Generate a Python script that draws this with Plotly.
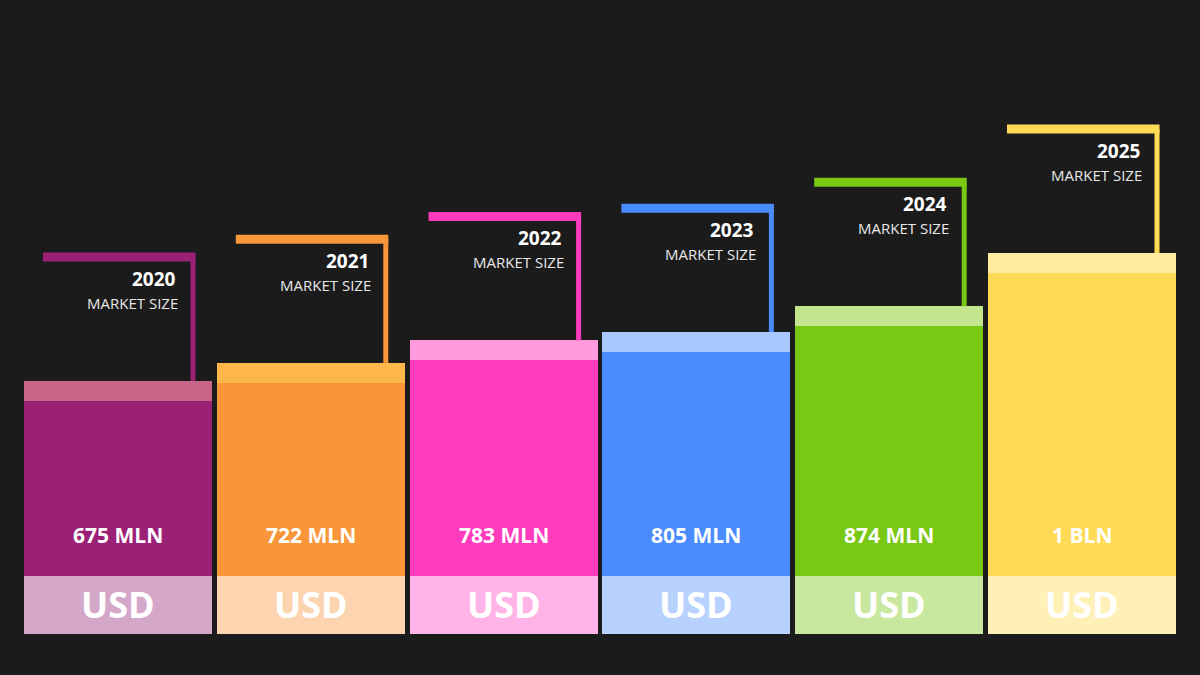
import plotly.graph_objects as go

years = ["2020", "2021", "2022", "2023", "2024", "2025"]
market_size = [675, 722, 783, 805, 874, 1016]  # mln USD
value_labels = ["675 MLN", "722 MLN", "783 MLN", "805 MLN", "874 MLN", "1 BLN"]
main_colors = ["#9B2177", "#F9963A", "#FF3BBD", "#4A8BFF", "#78C814", "#FFDA55"]
top_colors = ["#C9678A", "#FDB64A", "#FF9BDD", "#A9C8FF", "#C3E58E", "#FFEBA0"]
usd_colors = ["#D4A7C9", "#FCD4B0", "#FFB3E6", "#B8D2FF", "#C8E8A0", "#FFF0B8"]

BG = "#1b1b1b"
FONT = "Open Sans"
W, H = 1200, 675
PX_PER_UNIT = 0.375      # vertical pixels per mln
PITCH = 192.8            # horizontal pixels per bar slot
X0 = 118                 # pixel centre of first bar
BAR_W = 188 / PITCH
USD_H = 58 / PX_PER_UNIT
TOP_H = 20 / PX_PER_UNIT
LINE_UP = 124 / PX_PER_UNIT
INSET = 19 / PITCH

x = list(range(len(years)))
y_min = -(H - 634) / PX_PER_UNIT
y_max = 634 / PX_PER_UNIT
x_min = -X0 / PITCH
x_max = (W - X0) / PITCH

fig = go.Figure()

# stacked pieces of each bar: USD band, main body, light top
fig.add_trace(go.Bar(x=x, y=[USD_H] * len(x), base=0, width=BAR_W,
                     marker=dict(color=usd_colors, line_width=0), hoverinfo="skip"))
fig.add_trace(go.Bar(x=x, y=[v - USD_H - TOP_H for v in market_size], base=USD_H, width=BAR_W,
                     marker=dict(color=main_colors, line_width=0), hoverinfo="skip"))
fig.add_trace(go.Bar(x=x, y=[TOP_H] * len(x), base=[v - TOP_H for v in market_size], width=BAR_W,
                     marker=dict(color=top_colors, line_width=0), hoverinfo="skip"))

# connector lines
for i, v in enumerate(market_size):
    xl = i - BAR_W / 2 + INSET
    xr = i + BAR_W / 2 - INSET
    yh = v + LINE_UP
    fig.add_trace(go.Scatter(x=[xl, xr + 2.5 / PITCH], y=[yh, yh], mode="lines",
                             line=dict(color=main_colors[i], width=9), hoverinfo="skip"))
    fig.add_trace(go.Scatter(x=[xr, xr], y=[yh, v], mode="lines",
                             line=dict(color=main_colors[i], width=5), hoverinfo="skip"))
    fig.add_annotation(x=xr - 15 / PITCH, y=yh - 22 / PX_PER_UNIT, text="<b>" + years[i] + "</b>",
                       showarrow=False, xanchor="right", yanchor="middle",
                       font=dict(family=FONT, size=19, color="white"))
    fig.add_annotation(x=xr - 13 / PITCH, y=yh - 46 / PX_PER_UNIT, text="MARKET SIZE",
                       showarrow=False, xanchor="right", yanchor="middle",
                       font=dict(family=FONT, size=15, color="#e8e8e8"))
    fig.add_annotation(x=i, y=99 / PX_PER_UNIT, text="<b>" + value_labels[i] + "</b>",
                       showarrow=False, xanchor="center", yanchor="middle",
                       font=dict(family=FONT, size=21, color="white"))
    fig.add_annotation(x=i, y=30 / PX_PER_UNIT, text="<b>USD</b>",
                       showarrow=False, xanchor="center", yanchor="middle",
                       font=dict(family=FONT, size=36, color="white"))

fig.update_layout(
    width=W, height=H,
    margin=dict(l=0, r=0, t=0, b=0),
    paper_bgcolor=BG, plot_bgcolor=BG,
    barmode="overlay", bargap=0,
    showlegend=False,
    xaxis=dict(range=[x_min, x_max], visible=False, fixedrange=True),
    yaxis=dict(range=[y_min, y_max], visible=False, fixedrange=True),
)

# drop the browser's default 8px page margin so the figure fills the window
fig.write_html("out.html", config={"displayModeBar": False},
               post_script="document.body.style.margin='0';document.body.style.background='%s';" % BG)
